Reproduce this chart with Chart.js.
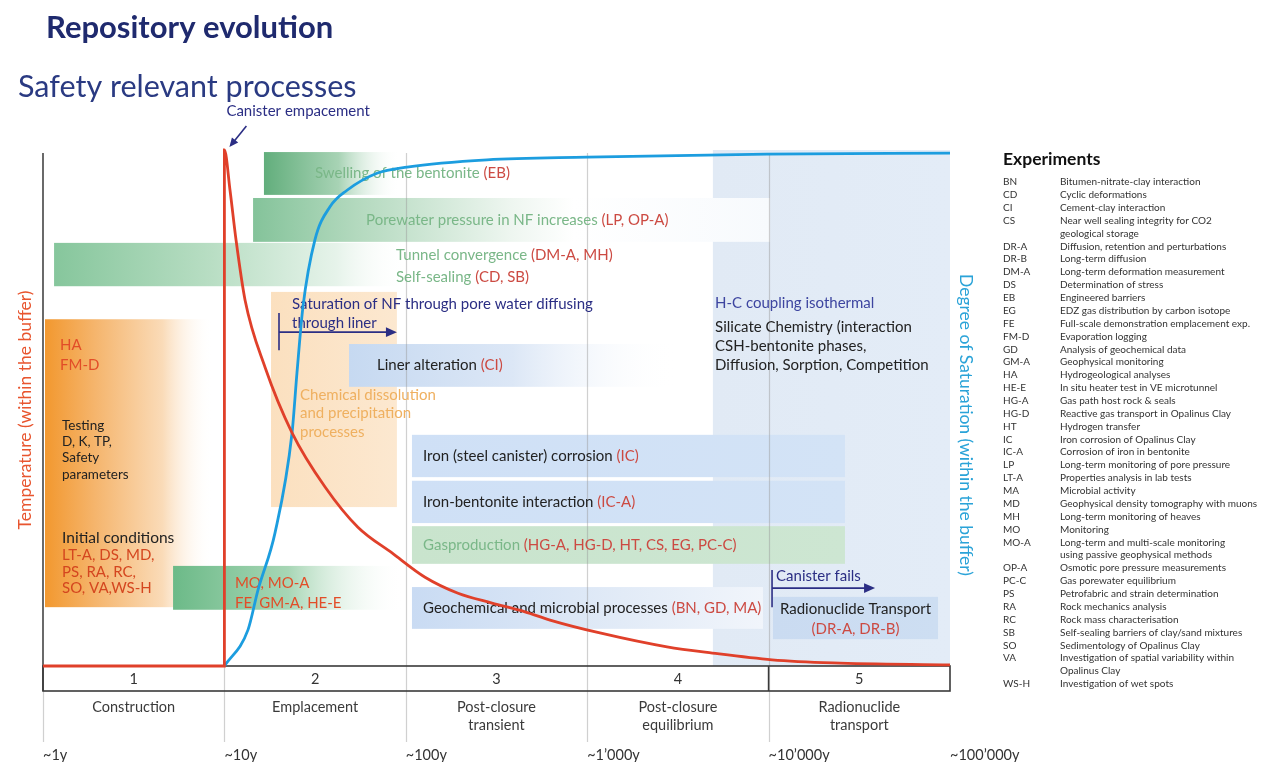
<!DOCTYPE html>
<html>
<head>
<meta charset="utf-8">
<title>Repository evolution</title>
<script src="https://cdn.jsdelivr.net/npm/chart.js@4.4.1/dist/chart.umd.min.js"></script>
<style>
  html, body { margin: 0; padding: 0; background: #fff; }
  canvas { display: block; }
</style>
</head>
<body>
<canvas id="evolutionChart" width="1262" height="762"></canvas>
<script>
// x axis is log10(years): 0 = ~1y ... 5 = ~100'000y, y axis is relative (0-100)
const tickLabels = ['~1y', '~10y', '~100y', '~1\u2019000y', '~10\u2019000y', '~100\u2019000y'];
const phaseNumbers = ['1', '2', '3', '4', '5'];
const phaseNames = [['Construction'], ['Emplacement'], ['Post-closure', 'transient'], ['Post-closure', 'equilibrium'], ['Radionuclide', 'transport']];

// temperature within the buffer
const tempX = [0, 1, 1, 1.031, 1.064, 1.114, 1.224, 1.373, 1.555, 1.736, 1.924, 2.106, 2.288, 2.475, 2.657, 2.795, 3.07, 3.44, 3.69, 4.019, 4.355, 5];
const tempY = [0, 0, 100, 92.2, 82.6, 70.9, 57.9, 45.2, 34.7, 26.9, 21.9, 17.2, 14.1, 12.2, 10.5, 8.9, 6.4, 3.7, 2.5, 1.2, 0.6, 0.2];

// degree of saturation within the buffer
const satX = [1, 1.13, 1.185, 1.279, 1.373, 1.4, 1.433, 1.499, 1.582, 1.676, 1.841, 2.007, 2.448, 2.999, 3.991, 5];
const satY = [0, 7.0, 14.7, 25.8, 45.2, 56.8, 69.6, 82.6, 89.0, 92.2, 95.5, 96.7, 98.1, 98.6, 99.2, 99.4];

// processes: time span (log10 years) and band (relative height)
const processNames = ['H-C coupling isothermal', 'Swelling of the bentonite', 'Porewater pressure in NF increases',
  'Tunnel convergence / Self-sealing', 'Initial conditions', 'Chemical dissolution and precipitation',
  'Liner alteration', 'Iron (steel canister) corrosion', 'Iron-bentonite interaction', 'Gasproduction',
  'Geochemical and microbial processes', 'Radionuclide Transport', 'Monitoring'];
const processStart = [3.693, 1.218, 1.158, 0.061, 0.011, 1.257, 1.687, 2.034, 2.034, 2.034, 2.034, 4.024, 0.717];
const processEnd = [5.0, 1.968, 4.008, 2.007, 0.937, 1.951, 3.495, 4.421, 4.421, 4.421, 3.969, 4.934, 1.985];
const processTop = [100, 99.6, 90.7, 82.0, 67.2, 72.5, 62.4, 44.8, 35.9, 27.1, 15.3, 13.4, 19.4];
const processBottom = [0, 91.3, 82.2, 73.6, 11.4, 30.8, 54.1, 36.6, 27.7, 19.8, 7.2, 5.2, 10.9];

// experiments legend
const expCodes = ['BN', 'CD', 'CI', 'CS', '', 'DR-A', 'DR-B', 'DM-A', 'DS', 'EB', 'EG', 'FE', 'FM-D', 'GD', 'GM-A',
  'HA', 'HE-E', 'HG-A', 'HG-D', 'HT', 'IC', 'IC-A', 'LP', 'LT-A', 'MA', 'MD', 'MH', 'MO', 'MO-A', '', 'OP-A',
  'PC-C', 'PS', 'RA', 'RC', 'SB', 'SO', 'VA', '', 'WS-H'];
const expNames = ['Bitumen-nitrate-clay interaction', 'Cyclic deformations', 'Cement-clay interaction',
  'Near well sealing integrity for CO2', 'geological storage', 'Diffusion, retention and perturbations',
  'Long-term diffusion', 'Long-term deformation measurement', 'Determination of stress', 'Engineered barriers',
  'EDZ gas distribution by carbon isotope', 'Full-scale demonstration emplacement exp.', 'Evaporation logging',
  'Analysis of geochemical data', 'Geophysical monitoring', 'Hydrogeological analyses',
  'In situ heater test in VE microtunnel', 'Gas path host rock & seals', 'Reactive gas transport in Opalinus Clay',
  'Hydrogen transfer', 'Iron corrosion of Opalinus Clay', 'Corrosion of iron in bentonite',
  'Long-term monitoring of pore pressure', 'Properties analysis in lab tests', 'Microbial activity',
  'Geophysical density tomography with muons', 'Long-term monitoring of heaves', 'Monitoring',
  'Long-term and multi-scale monitoring', 'using passive geophysical methods', 'Osmotic pore pressure measurements',
  'Gas porewater equilibrium', 'Petrofabric and strain determination', 'Rock mechanics analysis',
  'Rock mass characterisation', 'Self-sealing barriers of clay/sand mixtures', 'Sedimentology of Opalinus Clay',
  'Investigation of spatial variability within', 'Opalinus Clay', 'Investigation of wet spots'];

const FONT = 'Lato, "Open Sans", sans-serif';
const RED = '#e0402a';
const BLUE = '#1c9ddf';
const NAVY = '#2b2e84';
const INK = '#222222';
const GREEN_T = '#7ab788';
const CODE_T = '#cc4a42';
const ORANGE_T = '#efb060';
const HOT_T = '#e24d28';

// fill of each process band, left to right
const processFill = [
  [[0, '#e1eaf5'], [1, '#e3ecf7']],
  [[0, '#62ae7c'], [0.55, '#a8d3b5'], [1, 'rgba(255,255,255,0)']],
  [[0, '#84c39a'], [0.2, '#b3d9be'], [0.5, '#eef6f0'], [0.62, '#ffffff'], [1, '#f7fafd']],
  [[0, '#86c69c'], [0.45, '#b9dec4'], [0.8, '#e6f3ea'], [1, 'rgba(255,255,255,0)']],
  [[0, '#f2982f'], [0.3, '#f5b56d'], [0.7, '#fadbb8'], [1, 'rgba(255,255,255,0)']],
  [[0, '#fbe0bf'], [1, '#fce8d0']],
  [[0, '#c6d9f1'], [0.5, '#dce7f6'], [1, 'rgba(255,255,255,0)']],
  [[0, '#cfe0f6'], [1, '#d3e3f6']],
  [[0, '#cfe0f6'], [1, '#d3e3f6']],
  [[0, '#c9e4cd'], [1, '#cde6d2']],
  [[0, '#c9dbf3'], [0.6, '#e2ebf7'], [1, '#f1f5fb']],
  [[0, '#cadbf1'], [1, '#cddef2']],
  [[0, '#6cba88'], [0.5, '#a7d6b5'], [1, 'rgba(255,255,255,0)']]
];

// labels that sit inside a band (x start in log10 years)
const bandLabels = [
  { band: 1, at: 1.499, parts: [['Swelling of the bentonite ', GREEN_T], ['(EB)', CODE_T]] },
  { band: 2, at: 1.781, parts: [['Porewater pressure in NF increases ', GREEN_T], ['(LP, OP-A)', CODE_T]] },
  { band: 6, at: 1.841, parts: [['Liner alteration ', INK], ['(CI)', CODE_T]] },
  { band: 7, at: 2.095, parts: [['Iron (steel canister) corrosion ', INK], ['(IC)', CODE_T]] },
  { band: 8, at: 2.095, parts: [['Iron-bentonite interaction ', INK], ['(IC-A)', CODE_T]] },
  { band: 9, at: 2.095, parts: [['Gasproduction ', GREEN_T], ['(HG-A, HG-D, HT, CS, EG, PC-C)', CODE_T]] },
  { band: 10, at: 2.095, parts: [['Geochemical and microbial processes ', INK], ['(BN, GD, MA)', CODE_T]] }
];

// free labels (x in log10 years, y relative height)
const freeLabels = [
  { x: 1.946, y: 79.7, parts: [['Tunnel convergence ', GREEN_T], ['(DM-A, MH)', CODE_T]] },
  { x: 1.946, y: 75.4, parts: [['Self-sealing ', GREEN_T], ['(CD, SB)', CODE_T]] },
  { x: 0.094, y: 62.2, parts: [['HA', HOT_T]] },
  { x: 0.094, y: 58.3, parts: [['FM-D', HOT_T]] },
  { x: 0.105, y: 46.5, parts: [['Testing', INK]], size: 13.5 },
  { x: 0.105, y: 43.4, parts: [['D, K, TP,', INK]], size: 13.5 },
  { x: 0.105, y: 40.3, parts: [['Safety', INK]], size: 13.5 },
  { x: 0.105, y: 37.0, parts: [['parameters', INK]], size: 13.5 },
  { x: 0.105, y: 24.8, parts: [['Initial conditions', INK]], size: 15.5 },
  { x: 0.105, y: 21.5, parts: [['LT-A, DS, MD,', '#d4461f']] },
  { x: 0.105, y: 18.2, parts: [['PS, RA, RC,', '#d4461f']] },
  { x: 0.105, y: 15.1, parts: [['SO, VA,WS-H', '#d4461f']] },
  { x: 1.058, y: 16.1, parts: [['MO, MO-A', HOT_T]] },
  { x: 1.058, y: 12.2, parts: [['FE, GM-A, HE-E', HOT_T]] },
  { x: 1.417, y: 52.5, parts: [['Chemical dissolution', ORANGE_T]] },
  { x: 1.417, y: 49.0, parts: [['and precipitation', ORANGE_T]] },
  { x: 1.417, y: 45.3, parts: [['processes', ORANGE_T]] },
  { x: 1.373, y: 70.2, parts: [['Saturation of NF through pore water diffusing', NAVY]] },
  { x: 1.373, y: 66.5, parts: [['through liner', NAVY]] },
  { x: 3.705, y: 70.3, parts: [['H-C coupling isothermal', '#3d45a0']] },
  { x: 3.705, y: 65.7, parts: [['Silicate Chemistry (interaction', INK]] },
  { x: 3.705, y: 62.0, parts: [['CSH-bentonite phases,', INK]] },
  { x: 3.705, y: 58.3, parts: [['Diffusion, Sorption, Competition', INK]] },
  { x: 4.041, y: 17.4, parts: [['Canister fails', NAVY]] },
  { x: 4.479, y: 11.0, parts: [['Radionuclide Transport', INK]], align: 'center' },
  { x: 4.479, y: 7.2, parts: [['(DR-A, DR-B)', CODE_T]], align: 'center' }
];

function setFont(ctx, size, weight) {
    ctx.font = (weight || 'normal') + ' ' + size + 'px ' + FONT;
}

function richText(ctx, x, y, parts, size, align) {
    setFont(ctx, size || 15);
    ctx.textAlign = 'left';
    ctx.textBaseline = 'middle';
    const total = parts.reduce((w, p) => w + ctx.measureText(p[0]).width, 0);
    let cx = align === 'center' ? x - total / 2 : x;
    parts.forEach(p => {
        ctx.fillStyle = p[1];
        ctx.fillText(p[0], cx, y);
        cx += ctx.measureText(p[0]).width;
    });
}

function arrow(ctx, x0, y0, x1, y1, color, head) {
    const a = Math.atan2(y1 - y0, x1 - x0);
    ctx.strokeStyle = color;
    ctx.fillStyle = color;
    ctx.lineWidth = 1.6;
    ctx.beginPath();
    ctx.moveTo(x0, y0);
    ctx.lineTo(x1 - Math.cos(a) * head * 0.8, y1 - Math.sin(a) * head * 0.8);
    ctx.stroke();
    ctx.beginPath();
    ctx.moveTo(x1, y1);
    ctx.lineTo(x1 - head * Math.cos(a) + head * 0.45 * Math.sin(a), y1 - head * Math.sin(a) - head * 0.45 * Math.cos(a));
    ctx.lineTo(x1 - head * Math.cos(a) - head * 0.45 * Math.sin(a), y1 - head * Math.sin(a) + head * 0.45 * Math.cos(a));
    ctx.closePath();
    ctx.fill();
}

const diagramPlugin = {
    id: 'diagram',
    beforeDraw(chart) {
        const ctx = chart.ctx;
        ctx.save();
        ctx.fillStyle = '#ffffff';
        ctx.fillRect(0, 0, chart.width, chart.height);
        ctx.restore();
    },
    beforeDatasetsDraw(chart) {
        const ctx = chart.ctx;
        const xs = chart.scales.x, ys = chart.scales.y;
        const X = v => xs.getPixelForValue(v);
        const Y = v => ys.getPixelForValue(v);
        const area = chart.chartArea;
        ctx.save();

        // process bands
        processNames.forEach((name, i) => {
            const x0 = X(processStart[i]), x1 = X(processEnd[i]);
            const y0 = Y(processTop[i]), y1 = Y(processBottom[i]);
            const g = ctx.createLinearGradient(x0, 0, x1, 0);
            processFill[i].forEach(s => g.addColorStop(s[0], s[1]));
            ctx.fillStyle = g;
            ctx.fillRect(x0, y0, x1 - x0, y1 - y0);
        });

        // vertical grid lines, decades
        ctx.strokeStyle = 'rgba(150,150,150,0.45)';
        ctx.lineWidth = 1.2;
        for (let d = 0; d <= 4; d++) {
            const px = Math.round(X(d)) + 0.5;
            ctx.beginPath();
            ctx.moveTo(px, d === 0 ? area.bottom + 25 : area.top + 3);
            ctx.lineTo(px, area.bottom + 76);
            ctx.stroke();
        }

        // left axis
        ctx.strokeStyle = '#444444';
        ctx.lineWidth = 1.6;
        ctx.beginPath();
        ctx.moveTo(X(0), area.top + 3);
        ctx.lineTo(X(0), area.bottom + 25);
        ctx.stroke();

        // phase box
        ctx.strokeStyle = '#3a3a3a';
        ctx.lineWidth = 1.6;
        ctx.strokeRect(X(0), area.bottom, X(5) - X(0), 25);
        ctx.beginPath();
        ctx.moveTo(X(4), area.bottom);
        ctx.lineTo(X(4), area.bottom + 25);
        ctx.stroke();

        phaseNumbers.forEach((n, i) => {
            richText(ctx, (X(i) + X(i + 1)) / 2, area.bottom + 13, [[n, '#333333']], 14.5, 'center');
            phaseNames[i].forEach((line, j) => {
                richText(ctx, (X(i) + X(i + 1)) / 2, area.bottom + 41 + j * 18, [[line, '#3a3a3a']], 14.5, 'center');
            });
        });

        tickLabels.forEach((t, i) => {
            richText(ctx, X(i), area.bottom + 89, [[t, '#333333']], 14.5);
        });

        // labels
        bandLabels.forEach(l => {
            richText(ctx, X(l.at), (Y(processTop[l.band]) + Y(processBottom[l.band])) / 2, l.parts);
        });
        freeLabels.forEach(l => {
            richText(ctx, X(l.x), Y(l.y), l.parts, l.size, l.align);
        });

        // saturation through liner arrow
        ctx.strokeStyle = NAVY;
        ctx.lineWidth = 1.6;
        ctx.beginPath();
        ctx.moveTo(X(1.301), Y(68.4));
        ctx.lineTo(X(1.301), Y(61.2));
        ctx.stroke();
        arrow(ctx, X(1.301), Y(64.7), X(1.951), Y(64.7), NAVY, 11);

        // canister fails arrow
        ctx.beginPath();
        ctx.moveTo(X(4.019), Y(18.6));
        ctx.lineTo(X(4.019), Y(11.4));
        ctx.stroke();
        arrow(ctx, X(4.019), Y(15.1), X(4.587), Y(15.1), NAVY, 11);

        ctx.restore();
    },
    afterDraw(chart) {
        const ctx = chart.ctx;
        const xs = chart.scales.x;
        const area = chart.chartArea;
        ctx.save();

        // titles
        setFont(ctx, 31, 'bold');
        ctx.fillStyle = '#1f2a6e';
        ctx.textAlign = 'left';
        ctx.textBaseline = 'alphabetic';
        ctx.fillText('Repository evolution', 46, 38);
        setFont(ctx, 30.5);
        ctx.fillStyle = '#2a3a82';
        ctx.fillText('Safety relevant processes', 18, 97);

        // canister emplacement
        const x10 = xs.getPixelForValue(1);
        richText(ctx, x10 + 2, 111, [['Canister empacement', NAVY]], 15);
        arrow(ctx, x10 + 22, 126, x10 + 5, area.top - 3, NAVY, 9);

        // axis titles
        setFont(ctx, 17.5);
        ctx.textAlign = 'center';
        ctx.textBaseline = 'middle';
        ctx.fillStyle = '#e8552f';
        ctx.translate(25, 410);
        ctx.rotate(-Math.PI / 2);
        ctx.fillText('Temperature (within the buffer)', 0, 0);
        ctx.setTransform(1, 0, 0, 1, 0, 0);
        ctx.fillStyle = '#2aa3d8';
        ctx.translate(966, 425);
        ctx.rotate(Math.PI / 2);
        ctx.fillText('Degree of Saturation (within the buffer)', 0, 0);
        ctx.setTransform(1, 0, 0, 1, 0, 0);

        // experiments legend
        setFont(ctx, 17.5, 'bold');
        ctx.fillStyle = '#111111';
        ctx.textAlign = 'left';
        ctx.textBaseline = 'middle';
        ctx.fillText('Experiments', 1003, 159);
        setFont(ctx, 10);
        ctx.fillStyle = '#333333';
        expCodes.forEach((code, i) => {
            const y = 182 + i * 12.87;
            if (code) ctx.fillText(code, 1003, y);
            ctx.fillText(expNames[i], 1060, y);
        });

        ctx.restore();
    }
};

const ctx = document.getElementById('evolutionChart').getContext('2d');
new Chart(ctx, {
    type: 'scatter',
    data: {
        datasets: [{
            label: 'Temperature (within the buffer)',
            data: tempX.map((x, i) => ({ x: x, y: tempY[i] })),
            showLine: true,
            borderColor: RED,
            borderWidth: 2.8,
            pointRadius: 0,
            cubicInterpolationMode: 'monotone',
            clip: false
        }, {
            label: 'Degree of Saturation (within the buffer)',
            data: satX.map((x, i) => ({ x: x, y: satY[i] })),
            showLine: true,
            borderColor: BLUE,
            borderWidth: 2.8,
            pointRadius: 0,
            cubicInterpolationMode: 'monotone',
            clip: false
        }]
    },
    options: {
        responsive: false,
        animation: false,
        layout: { padding: { left: 43, right: 312, top: 150, bottom: 96 } },
        scales: {
            x: { type: 'linear', min: 0, max: 5, display: false },
            y: { type: 'linear', min: 0, max: 100, display: false }
        },
        plugins: {
            legend: { display: false },
            tooltip: { enabled: false }
        }
    },
    plugins: [diagramPlugin]
});
</script>
</body>
</html>
